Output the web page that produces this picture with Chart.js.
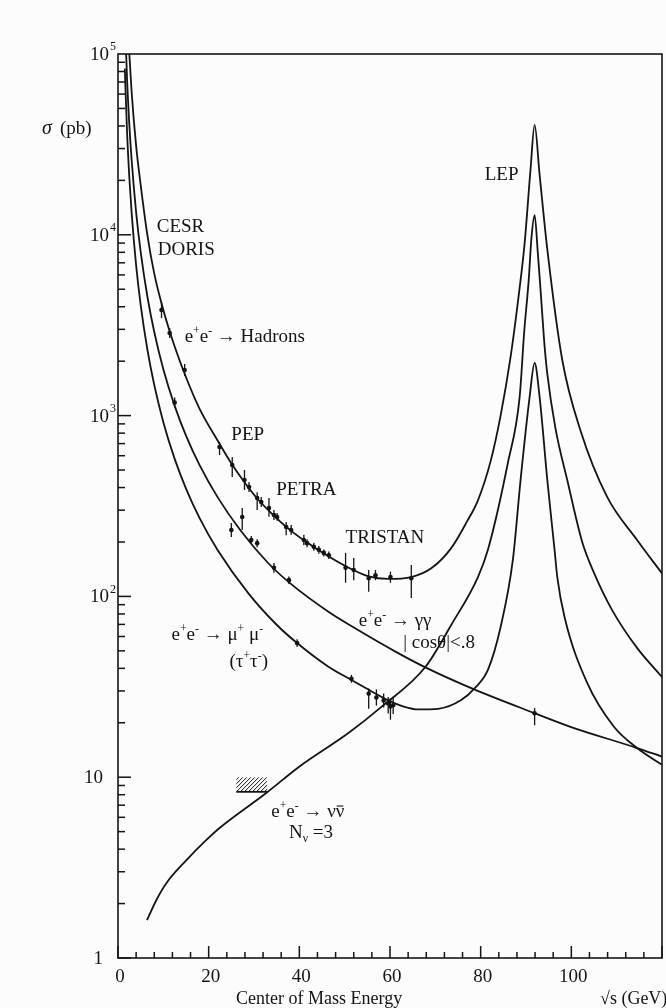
<!DOCTYPE html>
<html>
<head>
<meta charset="utf-8">
<script src="https://cdn.jsdelivr.net/npm/chart.js@4.4.1/dist/chart.umd.min.js"></script>
<style>
  html, body { margin: 0; padding: 0; background: #fcfcfc; }
  #wrap { width: 666px; height: 1008px; }
</style>
</head>
<body>
<div id="wrap"><canvas id="c" width="666" height="1008"></canvas></div>
<script>
// --- curves (E in GeV, sigma in pb) ---
const hadE     = [2.0, 2.5, 3.0, 4.0, 5.0, 6.5, 8.0, 10, 12.5, 15, 18, 22, 25.2, 27.9, 30.7, 34.0, 37.3, 41.4, 46.5, 50.2, 55.3, 59.6, 64.7, 69.1, 73.5, 77.0, 79.4, 82.2, 84.4, 86.6, 88.6, 89.7, 91.0, 91.9, 93.0, 94.7, 98.0, 102.0, 107.9, 114.5, 120];
const hadSigma = [180000, 100000, 62000, 31000, 18900, 9900, 6100, 3840, 2410, 1630, 1090, 726, 535, 428, 348, 286, 240, 201, 166, 147, 129, 125, 128, 143, 185, 260, 340, 560, 1000, 2110, 5100, 9000, 23000, 40500, 21500, 8300, 2030, 830, 355, 205, 134];

const gamE     = [1.5, 2.0, 2.5, 3.0, 4.0, 5.0, 6.5, 8.0, 10, 12.5, 15, 18, 22, 27, 33, 38, 46.5, 53.7, 61.2, 67.8, 78.7, 91.9, 99.8, 114.5, 120];
const gamSigma = [163000, 72400, 40700, 26100, 13300, 8050, 4530, 2900, 1806, 1132, 775, 532, 353, 232, 154, 118, 82, 63.5, 49.5, 40.5, 30.5, 22.6, 19.0, 14.5, 13.0];

const mumuE     = [1.5, 2.0, 2.5, 3.0, 4.0, 5.0, 6.5, 8.0, 10, 12.5, 15, 18, 22, 28.9, 35, 39.5, 46.5, 51.5, 55.9, 59.6, 63.0, 66.2, 70.6, 75.7, 78.7, 81.6, 84.4, 87.1, 88.8, 90.8, 91.9, 93.0, 94.7, 96.3, 96.9, 98.5, 103.5, 109.4, 114.5, 120];
const mumuSigma = [83000, 36900, 20750, 13280, 6780, 4100, 2306, 1476, 920, 576, 395, 271, 180, 103, 69.7, 55.2, 40.7, 34.5, 29.9, 26.6, 24.6, 23.7, 23.9, 26.7, 31.1, 39.2, 67.7, 159, 440, 1268, 1954, 1268, 440, 181, 128, 76.9, 33.2, 19.0, 14.5, 11.7];

const nunuE     = [6.4, 8.5, 10.7, 15.1, 19.5, 22.4, 32.7, 39.9, 50.9, 58.1, 67.8, 73.5, 79.4, 81.6, 86.0, 88.6, 89.6, 90.6, 91.2, 91.9, 92.6, 93.2, 94.0, 94.7, 96.5, 99.1, 102.4, 105.0, 109.0, 114.5, 120];
const nunuSigma = [1.62, 2.1, 2.6, 3.48, 4.5, 5.24, 8.18, 11.4, 17.6, 24.5, 40.7, 69.5, 128, 181, 547, 1268, 2900, 5630, 9600, 12860, 8000, 5000, 2600, 1700, 850, 440, 200, 135, 84, 51.9, 35.8];

// --- measured points with error bars ---
const hadPtE     = [9.6, 11.4, 14.7, 22.4, 25.2, 27.9, 28.9, 30.7, 31.6, 33.3, 34.4, 35.1, 37.1, 38.2, 41.0, 41.7, 43.2, 44.3, 45.4, 46.5, 50.2, 52.0, 55.3, 56.8, 60.1, 64.7];
const hadPtSigma = [3840, 2865, 1786, 670, 533, 440, 403, 350, 333, 308, 282, 275, 242, 233, 205, 197, 188, 181, 174, 169, 144, 140, 126, 131, 128, 126];
const hadPtLo    = [3467, 2686, 1656, 605, 457, 388, 378, 301, 312, 276, 265, 262, 218, 219, 192, 187, 179, 172, 166, 161, 119, 123, 106, 123, 119, 98];
const hadPtHi    = [4250, 3052, 1929, 714, 590, 500, 429, 377, 355, 350, 301, 289, 258, 248, 219, 207, 198, 190, 182, 177, 174, 163, 140, 140, 137, 149];

const gamPtE     = [12.5, 25.0, 27.4, 29.4, 30.7, 34.4, 37.7, 91.9];
const gamPtSigma = [1180, 233, 275, 205, 197, 144, 123, 22.6];
const gamPtLo    = [1110, 213, 233, 195, 187, 135, 117, 19.4];
const gamPtHi    = [1260, 255, 308, 216, 207, 153, 129, 24.1];

const mumuPtE     = [39.5, 51.5, 55.3, 57.0, 58.6, 59.6, 60.1, 60.7];
const mumuPtSigma = [55.2, 35.0, 29.0, 27.6, 26.6, 25.6, 24.6, 25.0];
const mumuPtLo    = [52.5, 33.3, 23.9, 24.9, 24.3, 22.5, 20.8, 22.4];
const mumuPtHi    = [58.0, 36.8, 30.9, 30.6, 29.0, 27.8, 27.3, 27.9];

// --- axes ---
const xTickValues = [0, 20, 40, 60, 80, 100];
const xTickLabels = ['0', '20', '40', '60', '80', '100'];
const yTickValues = [1, 10, 100, 1000, 10000, 100000];
const yTickBase   = ['1', '10', '10', '10', '10', '10'];
const yTickExp    = ['', '', '2', '3', '4', '5'];

const SERIF = '"Liberation Serif", "DejaVu Serif", serif';
const INK = '#141414';

// text pieces: [text, mode]  mode: '' | 'sup' | 'sub' | 'bar'
const notes = [
  { E: 8.55, s: 10370, parts: [['CESR', '']] },
  { E: 8.77, s: 7730, parts: [['DORIS', '']] },
  { E: 14.7, s: 2550, parts: [['e', ''], ['+', 'sup'], ['e', ''], ['-', 'sup'], [' \u2192 Hadrons', '']] },
  { E: 25.0, s: 733, parts: [['PEP', '']] },
  { E: 34.9, s: 364, parts: [['PETRA', '']] },
  { E: 50.2, s: 197, parts: [['TRISTAN', '']] },
  { E: 80.9, s: 20100, parts: [['LEP', '']] },
  { E: 53.1, s: 69, parts: [['e', ''], ['+', 'sup'], ['e', ''], ['-', 'sup'], [' \u2192 \u03b3\u03b3', '']] },
  { E: 62.9, s: 51.8, parts: [['| cos\u03b8|<.8', '']] },
  { E: 11.8, s: 57.4, parts: [['e', ''], ['+', 'sup'], ['e', ''], ['-', 'sup'], [' \u2192 \u03bc', ''], ['+', 'sup'], [' \u03bc', ''], ['-', 'sup']] },
  { E: 24.6, s: 40.7, parts: [['(\u03c4', ''], ['+', 'sup'], ['\u03c4', ''], ['-', 'sup'], [')', '']] },
  { E: 33.8, s: 6.02, parts: [['e', ''], ['+', 'sup'], ['e', ''], ['-', 'sup'], [' \u2192 \u03bd', ''], ['\u03bd', 'bar']] },
  { E: 37.7, s: 4.61, parts: [['N', ''], ['\u03bd', 'sub'], [' =3', '']] }
];
const hatchE = [26.1, 32.9];
const hatchSigma = [8.3, 10.0];

function pairs(xs, ys) { return xs.map((x, i) => ({ x: x, y: ys[i] })); }

function drawRich(ctx, x, y, parts, size) {
  let cx = x;
  parts.forEach(([t, mode]) => {
    let fs = size, dy = 0;
    if (mode === 'sup') { fs = size * 0.62; dy = -size * 0.42; }
    if (mode === 'sub') { fs = size * 0.62; dy = size * 0.22; }
    ctx.font = fs + 'px ' + SERIF;
    ctx.fillText(t, cx, y + dy);
    const w = ctx.measureText(t).width;
    if (mode === 'bar') {
      ctx.beginPath();
      ctx.lineWidth = 1.1;
      ctx.moveTo(cx + 1, y - size * 0.58);
      ctx.lineTo(cx + w - 1, y - size * 0.58);
      ctx.stroke();
    }
    cx += w;
  });
}

const paperPlugin = {
  id: 'paper',
  beforeDraw(chart) {
    const ctx = chart.ctx;
    ctx.save();
    ctx.fillStyle = '#fcfcfc';
    ctx.fillRect(0, 0, chart.width, chart.height);
    ctx.restore();
  },
  afterDatasetsDraw(chart) {
    const ctx = chart.ctx, ys = chart.scales.y;
    ctx.save();
    ctx.strokeStyle = INK;
    ctx.lineWidth = 1.3;
    chart.data.datasets.forEach((ds, i) => {
      if (!ds.errLo) return;
      chart.getDatasetMeta(i).data.forEach((pt, j) => {
        ctx.beginPath();
        ctx.moveTo(pt.x, ys.getPixelForValue(ds.errLo[j]));
        ctx.lineTo(pt.x, ys.getPixelForValue(ds.errHi[j]));
        ctx.stroke();
      });
    });
    ctx.restore();
  },
  afterDraw(chart) {
    const ctx = chart.ctx, xs = chart.scales.x, ys = chart.scales.y, a = chart.chartArea;
    ctx.save();
    ctx.strokeStyle = INK;
    ctx.fillStyle = INK;
    // frame
    ctx.lineWidth = 1.6;
    ctx.strokeRect(a.left, a.top, a.right - a.left, a.bottom - a.top);
    // y ticks (inside)
    ctx.lineWidth = 1.5;
    for (let d = 0; d < 5; d++) {
      for (let m = 1; m <= 9; m++) {
        const py = ys.getPixelForValue(m * Math.pow(10, d));
        ctx.beginPath();
        ctx.moveTo(a.left, py);
        ctx.lineTo(a.left + (m === 1 ? 13 : 7), py);
        ctx.stroke();
      }
    }
    // x ticks (inside)
    for (let v = 0; v <= 120; v += 4) {
      const px = xs.getPixelForValue(v);
      ctx.beginPath();
      ctx.moveTo(px, a.bottom);
      ctx.lineTo(px, a.bottom - (v % 20 === 0 ? 12 : 6));
      ctx.stroke();
    }
    // y tick labels
    ctx.textBaseline = 'middle';
    yTickValues.forEach((v, i) => {
      const py = ys.getPixelForValue(v);
      ctx.font = '19px ' + SERIF;
      if (yTickExp[i]) {
        ctx.textAlign = 'right';
        ctx.fillText(yTickBase[i], a.left - 9, py + 1);
        ctx.textAlign = 'left';
        ctx.font = '12px ' + SERIF;
        ctx.fillText(yTickExp[i], a.left - 8, py - 7);
      } else {
        ctx.textAlign = 'right';
        ctx.fillText(yTickBase[i], a.left - 15, py + 1);
      }
    });
    // x tick labels
    ctx.textAlign = 'center';
    ctx.textBaseline = 'alphabetic';
    ctx.font = '19px ' + SERIF;
    xTickValues.forEach((v, i) => {
      ctx.fillText(xTickLabels[i], xs.getPixelForValue(v) + 2, a.bottom + 24);
    });
    // axis titles
    ctx.textAlign = 'left';
    ctx.font = 'italic 20px ' + SERIF;
    ctx.fillText('\u03c3', a.left - 76, a.top + 80);
    ctx.font = '19px ' + SERIF;
    ctx.fillText('(pb)', a.left - 58, a.top + 80);
    ctx.font = '18px ' + SERIF;
    ctx.fillText('Center of Mass Energy', a.left + 118, a.bottom + 46);
    ctx.fillText('\u221as (GeV)', a.left + 482, a.bottom + 46);
    // notes
    notes.forEach(n => {
      drawRich(ctx, xs.getPixelForValue(n.E), ys.getPixelForValue(n.s), n.parts, 19);
    });
    // hatched limit box
    const hx0 = xs.getPixelForValue(hatchE[0]), hx1 = xs.getPixelForValue(hatchE[1]);
    const hy0 = ys.getPixelForValue(hatchSigma[0]), hy1 = ys.getPixelForValue(hatchSigma[1]);
    ctx.lineWidth = 1.8;
    ctx.beginPath();
    ctx.moveTo(hx0, hy0); ctx.lineTo(hx1, hy0);
    ctx.stroke();
    ctx.save();
    ctx.beginPath();
    ctx.rect(hx0, hy1, hx1 - hx0, hy0 - hy1);
    ctx.clip();
    ctx.lineWidth = 1;
    for (let k = -20; k < (hx1 - hx0) + 20; k += 4) {
      ctx.beginPath();
      ctx.moveTo(hx0 + k, hy0);
      ctx.lineTo(hx0 + k + (hy0 - hy1), hy1);
      ctx.stroke();
    }
    ctx.restore();
    ctx.restore();
  }
};

const curve = (xs, ys) => ({
  data: pairs(xs, ys),
  showLine: true,
  borderColor: INK,
  borderWidth: 1.8,
  pointRadius: 0,
  cubicInterpolationMode: 'monotone',
  fill: false
});
const points = (xs, ys, lo, hi) => ({
  data: pairs(xs, ys),
  showLine: false,
  pointRadius: 2.3,
  pointBackgroundColor: INK,
  pointBorderWidth: 0,
  errLo: lo,
  errHi: hi
});

new Chart(document.getElementById('c'), {
  type: 'scatter',
  data: {
    datasets: [
      curve(hadE, hadSigma),
      curve(gamE, gamSigma),
      curve(mumuE, mumuSigma),
      curve(nunuE, nunuSigma),
      points(hadPtE, hadPtSigma, hadPtLo, hadPtHi),
      points(gamPtE, gamPtSigma, gamPtLo, gamPtHi),
      points(mumuPtE, mumuPtSigma, mumuPtLo, mumuPtHi)
    ]
  },
  options: {
    responsive: false,
    animation: false,
    devicePixelRatio: 1,
    layout: { padding: { top: 54, right: 1, bottom: 0, left: 0 } },
    plugins: { legend: { display: false }, tooltip: { enabled: false } },
    scales: {
      x: {
        type: 'linear', min: 0, max: 120,
        afterFit: s => { s.height = 50; },
        grid: { display: false, drawTicks: false },
        border: { display: false },
        ticks: { display: false }
      },
      y: {
        type: 'logarithmic', min: 1, max: 100000,
        afterFit: s => { s.width = 118; },
        grid: { display: false, drawTicks: false },
        border: { display: false },
        ticks: { display: false }
      }
    }
  },
  plugins: [paperPlugin]
});
</script>
</body>
</html>
